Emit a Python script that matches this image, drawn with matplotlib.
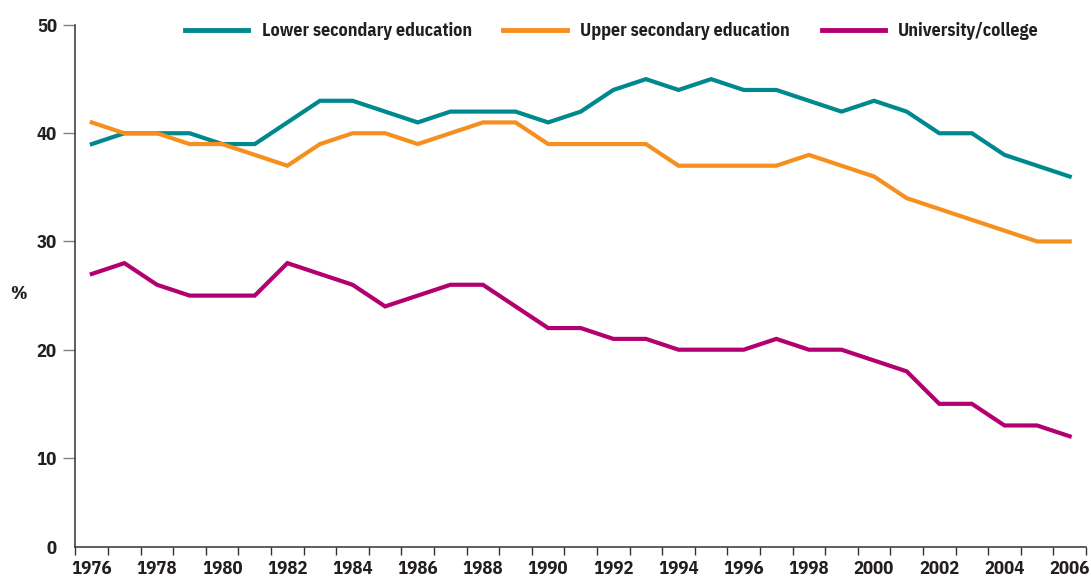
import numpy as np
import matplotlib
matplotlib.use("Agg")
import matplotlib.pyplot as plt

# data (percent)
years = list(range(1976, 2007))
lower_secondary = [39, 40, 40, 40, 39, 39, 41, 43, 43, 42, 41, 42, 42, 42, 41, 42,
                   44, 45, 44, 45, 44, 44, 43, 42, 43, 42, 40, 40, 38, 37, 36]
upper_secondary = [41, 40, 40, 39, 39, 38, 37, 39, 40, 40, 39, 40, 41, 41, 39, 39,
                   39, 39, 37, 37, 37, 37, 38, 37, 36, 34, 33, 32, 31, 30, 30]
university = [27, 28, 26, 25, 25, 25, 28, 27, 26, 24, 25, 26, 26, 24, 22, 22,
              21, 21, 20, 20, 20, 21, 20, 20, 19, 18, 15, 15, 13, 13, 12]
series_names = ["Lower secondary education", "Upper secondary education", "University/college"]
y_ticks = [10, 20, 30, 40, 50]
x_labels = list(range(1976, 2007, 2))

colors = ["#00888F", "#F5901F", "#B30070"]
text_color = "#231F20"
fonts = ["IBM Plex Sans Condensed", "DejaVu Sans"]

plt.rcParams["font.family"] = fonts
plt.rcParams["font.weight"] = "bold"
plt.rcParams["font.size"] = 13.5

fig = plt.figure(figsize=(10.91, 5.79), dpi=100)
ax = fig.add_axes([0.0692, 0.0558, 0.9262, 0.901])

for vals, name, c in zip([lower_secondary, upper_secondary, university], series_names, colors):
    ax.plot(years, vals, color=c, lw=3.0, label=name, solid_joinstyle="miter")

# y axis: bottom of the axis is labelled "0" although the scale is cut
y_low = 1.8
ax.set_ylim(y_low, 50)
ax.set_yticks([y_low] + y_ticks)
ax.set_yticklabels(["0"] + [str(t) for t in y_ticks])
ax.yaxis.get_major_ticks()[0].tick1line.set_visible(False)
ax.tick_params(axis="y", length=9, width=1.0, color="#808080", pad=4.3,
               labelcolor=text_color, labelsize=13.5)

# x axis: tick marks at year edges, labels centred on even years
ax.set_xlim(1975.5, 2006.5)
ax.set_xticks(np.arange(1975.5, 2007, 1.0))
ax.set_xticklabels([])
ax.set_xticks(x_labels, minor=True)
ax.set_xticklabels([str(y) for y in x_labels], minor=True)
ax.tick_params(axis="x", which="major", length=5.5, width=1.0, color="#333333")
ax.tick_params(axis="x", which="minor", length=0, pad=9.5, labelcolor=text_color, labelsize=13.5)

for s in ["top", "right"]:
    ax.spines[s].set_visible(False)
for s in ["left", "bottom"]:
    ax.spines[s].set_color("#333333")
    ax.spines[s].set_linewidth(1.1)

fig.text(18 / 1091, 1 - 294 / 579, "%", ha="center", va="center", color=text_color, fontsize=13.5)

leg = fig.legend(loc="center left", bbox_to_anchor=(185 / 1091, 1 - 31 / 579), ncol=3,
                 frameon=False, handlelength=3.5, handletextpad=0.75, columnspacing=1.75,
                 borderpad=0, borderaxespad=0, fontsize=13)
for t in leg.get_texts():
    t.set_color(text_color)
for h in leg.get_lines():
    h.set_linewidth(3.5)

fig.savefig("out.png", dpi=100)
